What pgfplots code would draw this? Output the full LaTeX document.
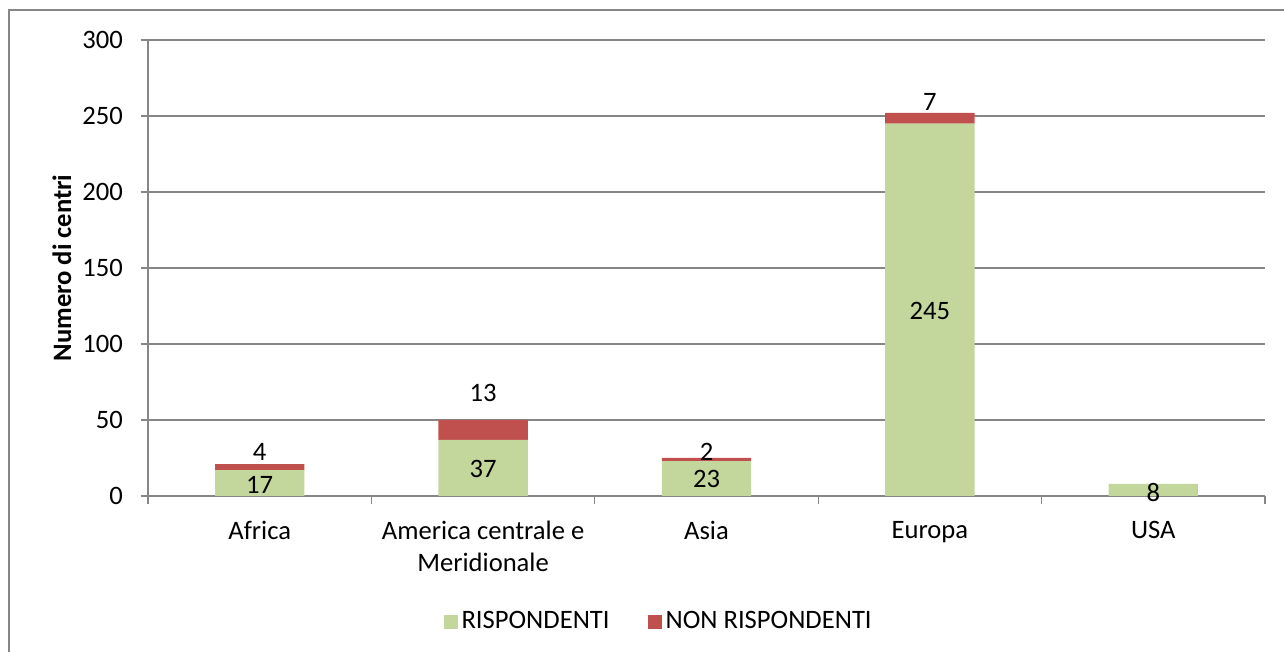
\documentclass[border=0pt]{standalone}
\usepackage{pgfplots}
\pgfplotsset{compat=1.18}
\usepackage{fontspec}
\setmainfont{Carlito}
\definecolor{verde}{HTML}{C3D69B}
\definecolor{rosso}{HTML}{C0504D}
\definecolor{grigio}{HTML}{868686}

\pgfplotstableread{
x risp nonrisp
0 17 4
1 37 13
2 23 2
3 245 7
4 8 0
}\dati

\begin{document}
\begin{tikzpicture}[font=\fontsize{13.3}{16}\selectfont]
% page = 1284x652 px at 0.5pt per px, origin at the plot's lower left corner
\path[use as bounding box] (-74pt,-78pt) rectangle (568pt,248pt);
\draw[grigio, line width=0.75pt] (-69.5pt,-120pt) rectangle (620pt,243pt);
\begin{axis}[
  at={(0,0)}, anchor=south west,
  scale only axis, width=558.5pt, height=228pt,
  ybar stacked, bar width=0.4,
  xmin=-0.5, xmax=4.5, ymin=0, ymax=300,
  ytick={0,50,...,300},
  xtick={0,...,4},
  xticklabels={Africa, {America centrale e\\Meridionale}, Asia, Europa, USA},
  xticklabel style={align=center, yshift=-5.5pt},
  yticklabel style={xshift=-5.5pt},
  minor xtick={-0.5,0.5,...,4.5},
  major x tick style={draw=none},
  tick align=outside,
  major tick length=3.5pt, minor tick length=4pt,
  tick style={grigio, line width=0.6pt},
  axis x line*=bottom, axis y line*=left,
  axis line style={grigio, line width=0.6pt, -},
  ymajorgrids, major grid style={grigio, line width=0.6pt},
  /pgf/number format/assume math mode=true,
  ylabel={\bfseries Numero di centri},
  ylabel style={at={(axis description cs:-0.077,0.5)}, anchor=center},
  legend style={at={(0.458,-0.276)}, anchor=center, draw=none, fill=none,
    legend columns=2,
    /tikz/every even column/.append style={column sep=17pt}},
  legend image code/.code={\fill[#1] (-1pt,-3.5pt) rectangle (6pt,3.5pt);},
]
\addplot[fill=verde, draw=none] table[x=x, y=risp] {\dati};
\addplot[fill=rosso, draw=none] table[x=x, y=nonrisp] {\dati};
\legend{RISPONDENTI, NON RISPONDENTI}

% data label positions (labels are drawn after the axis, on top of the bars)
\coordinate (l1) at (axis cs:0,7.2);
\coordinate (l2) at (axis cs:0,29);
\coordinate (l3) at (axis cs:1,17.8);
\coordinate (l4) at (axis cs:1,67.8);
\coordinate (l5) at (axis cs:2,11.2);
\coordinate (l6) at (axis cs:2,29);
\coordinate (l7) at (axis cs:3,121.7);
\coordinate (l8) at (axis cs:3,259);
\coordinate (l9) at (axis cs:4,2.6);
\end{axis}
\node at (l1) {17};
\node at (l2) {4};
\node at (l3) {37};
\node at (l4) {13};
\node at (l5) {23};
\node at (l6) {2};
\node at (l7) {245};
\node at (l8) {7};
\node at (l9) {8};
\end{tikzpicture}
\end{document}
